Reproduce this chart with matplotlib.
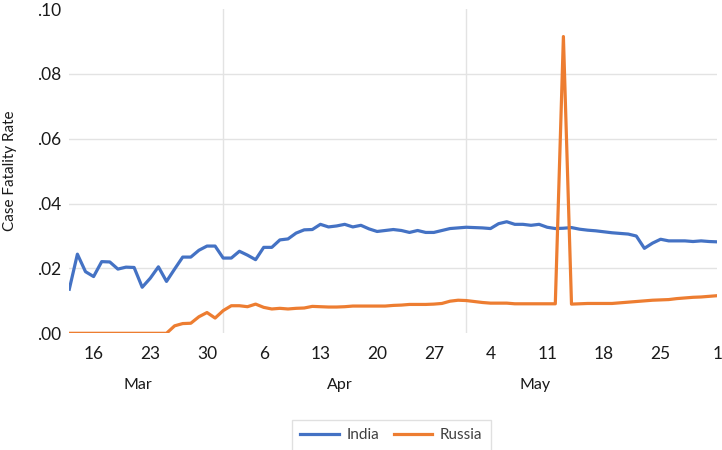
import numpy as np
import matplotlib
matplotlib.use("Agg")
import matplotlib.pyplot as plt
import matplotlib.dates as mdates
from matplotlib.ticker import FuncFormatter, FixedLocator

plt.rcParams['font.family'] = ['Lato', 'DejaVu Sans']

# Dates: Mar 13 2020 .. Jun 1 2020
dates = np.arange('2020-03-13', '2020-06-02', dtype='datetime64[D]')

india = [0.0136, 0.0244, 0.0190, 0.0175, 0.0221, 0.0220, 0.0198, 0.0204, 0.0203, 0.0142,
         0.0170, 0.0205, 0.0160, 0.0198, 0.0235, 0.0235, 0.0256, 0.0269, 0.0269, 0.0232,
         0.0232, 0.0253, 0.0241, 0.0227, 0.0265, 0.0265, 0.0288, 0.0291, 0.0309, 0.0319,
         0.0320, 0.0336, 0.0328, 0.0331, 0.0336, 0.0328, 0.0333, 0.0322, 0.0314, 0.0317,
         0.0320, 0.0317, 0.0311, 0.0317, 0.0311, 0.0311, 0.0317, 0.0323, 0.0325, 0.0327,
         0.0326, 0.0325, 0.0323, 0.0338, 0.0344, 0.0336, 0.0336, 0.0333, 0.0336, 0.0327,
         0.0323, 0.0324, 0.0326, 0.0321, 0.0318, 0.0316, 0.0313, 0.0310, 0.0308, 0.0306,
         0.0300, 0.0262, 0.0278, 0.0290, 0.0285, 0.0285, 0.0285, 0.0283, 0.0285, 0.0283,
         0.0282]

russia = [0.0, 0.0, 0.0, 0.0, 0.0, 0.0, 0.0, 0.0, 0.0, 0.0,
          0.0, 0.0, 0.0, 0.0023, 0.0030, 0.0031, 0.0051, 0.0064, 0.0047, 0.0070,
          0.0085, 0.0085, 0.0082, 0.0090, 0.0080, 0.0075, 0.0077, 0.0075, 0.0077, 0.0078,
          0.0083, 0.0082, 0.0081, 0.0081, 0.0082, 0.0084, 0.0084, 0.0084, 0.0084, 0.0084,
          0.0086, 0.0087, 0.0089, 0.0089, 0.0089, 0.0090, 0.0092, 0.0099, 0.0102, 0.0101,
          0.0098, 0.0095, 0.0093, 0.0093, 0.0093, 0.0091, 0.0091, 0.0091, 0.0091, 0.0091,
          0.0091, 0.0915, 0.0090, 0.0091, 0.0092, 0.0092, 0.0092, 0.0092, 0.0094, 0.0096,
          0.0098, 0.0100, 0.0102, 0.0103, 0.0104, 0.0107, 0.0109, 0.0111, 0.0112, 0.0114,
          0.0116]

series_names = ['India', 'Russia']
colors = ['#4472C4', '#ED7D31']
y_ticks = [0.00, 0.02, 0.04, 0.06, 0.08, 0.10]
y_tick_labels = ['.00', '.02', '.04', '.06', '.08', '.10']
months = ['Mar', 'Apr', 'May']
month_label_dates = np.array(['2020-03-21T12', '2020-04-15T10', '2020-05-09T12'], dtype='datetime64[h]')
month_bounds = np.array(['2020-04-01', '2020-05-01'], dtype='datetime64[D]')

W, H = 722, 450
fig = plt.figure(figsize=(W / 100, H / 100), dpi=100)
ax = fig.add_axes([69.3 / W, 1 - 333.3 / H, (717.3 - 69.3) / W, (333.3 - 9) / H])

xd = dates.astype('datetime64[D]').astype(object)
ax.plot(xd, india, color=colors[0], lw=2.3, label=series_names[0], zorder=3, solid_joinstyle='round')
ax.plot(xd, russia, color=colors[1], lw=2.3, label=series_names[1], zorder=3, solid_joinstyle='round')

ax.set_xlim(mdates.date2num(xd[0]), mdates.date2num(xd[-1]))
ax.set_ylim(0, 0.10)

for s in ax.spines.values():
    s.set_visible(False)

# gridlines
for v in y_ticks[1:-1]:
    ax.axhline(v, color='#e3e3e3', lw=1.0, zorder=1)
for b in month_bounds:
    ax.axvline(mdates.date2num(b.astype(object)), color='#e3e3e3', lw=1.0, zorder=1)

ax.set_yticks(y_ticks)
ax.set_yticklabels(y_tick_labels)
tick_dates = xd[3::7]
ax.xaxis.set_major_locator(FixedLocator([mdates.date2num(d) for d in tick_dates]))
ax.xaxis.set_major_formatter(FuncFormatter(lambda x, p: str(mdates.num2date(x).day)))
ax.tick_params(axis='both', length=0, labelsize=12.5, colors='#1a1a1a')
ax.tick_params(axis='x', pad=9)
ax.tick_params(axis='y', pad=6)

trans = ax.get_xaxis_transform()
for m, d in zip(months, month_label_dates):
    ax.text(mdates.date2num(d.astype(object)), -0.16, m, transform=trans,
            ha='center', va='center', fontsize=11.5, color='#1a1a1a')

fig.text(10 / W, 1 - 171 / H, 'Case Fatality Rate', rotation=90, ha='center', va='center',
         fontsize=11, color='#1a1a1a')

leg = fig.legend(loc='upper center', bbox_to_anchor=(391.5 / W, 1 - 420 / H), ncol=2,
                 frameon=True, fancybox=False, fontsize=11, handlelength=2.5,
                 handletextpad=0.5, columnspacing=1.0, borderaxespad=0, borderpad=0.55)
leg.get_frame().set_edgecolor('#d9d9d9')
leg.get_frame().set_linewidth(1.0)
for t in leg.get_texts():
    t.set_color('#404040')

fig.savefig('out.png', dpi=100)
